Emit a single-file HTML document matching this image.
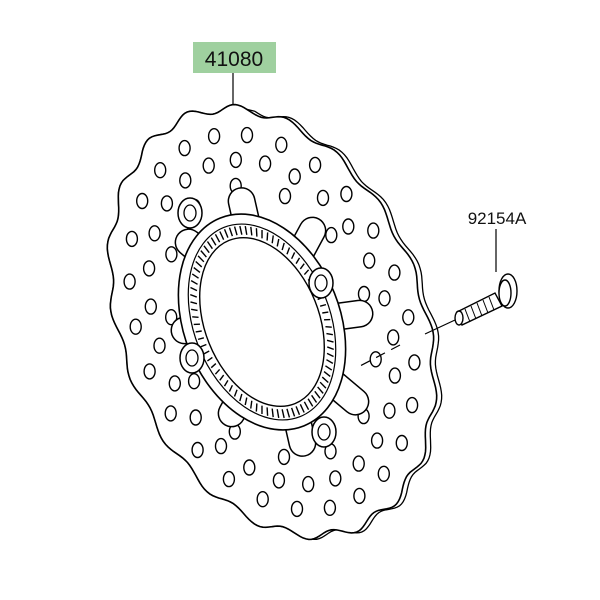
<!DOCTYPE html>
<html><head><style>
html,body{margin:0;padding:0;background:#fff;}
svg{display:block;}
text{font-family:"Liberation Sans",sans-serif;}
</style></head><body>
<svg id="s" width="600" height="600" viewBox="0 0 600 600" xmlns="http://www.w3.org/2000/svg">
<rect width="600" height="600" fill="#fff"/>
<rect x="193" y="42" width="83" height="31" fill="#9fd09f"/>
<text x="234" y="66" font-size="21" text-anchor="middle" fill="#111">41080</text>
<line x1="233" y1="73" x2="233" y2="106" stroke="#000" stroke-width="1.2"/>
<text x="497" y="224" font-size="17" text-anchor="middle" fill="#111">92154A</text>
<line x1="496" y1="229" x2="496" y2="272" stroke="#000" stroke-width="1.2"/>
<g id="disc" fill="none" stroke="#000" stroke-width="1.6"></g>
<g fill="#fff" stroke="#000" stroke-width="1.4">
<path d="M457 312 L495 293 L502 306 L462 325 Z"/>
<ellipse cx="459" cy="318" rx="4" ry="7"/>
<ellipse cx="508" cy="291" rx="9" ry="17"/>
<ellipse cx="505" cy="293" rx="6" ry="13"/>
</g>
<g stroke="#000" stroke-width="1">
<line x1="465" y1="309" x2="470" y2="322"/><line x1="471" y1="306" x2="476" y2="319"/>
<line x1="477" y1="303" x2="482" y2="316"/><line x1="483" y1="300" x2="488" y2="313"/>
<line x1="489" y1="297" x2="494" y2="310"/>
</g>
<line x1="455" y1="320" x2="425" y2="334" stroke="#000" stroke-width="1.2"/>
<line x1="400" y1="345" x2="360" y2="366" stroke="#000" stroke-width="1.2" stroke-dasharray="10,7"/>
</svg>
<script>
(function(){
var g=document.getElementById('disc'),NS='http://www.w3.org/2000/svg';
var cx=272,cy=322,th=-22*Math.PI/180;
function P(a,rx,ry){var x=rx*Math.cos(a),y=ry*Math.sin(a);return [cx+x*Math.cos(th)-y*Math.sin(th),cy+x*Math.sin(th)+y*Math.cos(th)];}
function el(n,at){var e=document.createElementNS(NS,n);for(var k in at)e.setAttribute(k,at[k]);g.appendChild(e);return e;}
var d='',d2='';
for(var i=0;i<=360;i++){var a=i/360*2*Math.PI;var w=1+0.02*Math.cos(a*20);var p=P(a,150*w,222*w);d+=(i?'L':'M')+p[0].toFixed(1)+' '+p[1].toFixed(1);
var q=P(a,150*w,222*w);d2+=(i?'L':'M')+(q[0]+(Math.cos(a+th)>0?5:0)).toFixed(1)+' '+q[1].toFixed(1);}
el('path',{d:d2,'stroke-width':1.3,fill:'#fff'});
el('path',{d:d,fill:'#fff','stroke-width':1.6});
var rows=[[0.88,26,0],[0.76,26,0.12],[0.64,13,0.06]];
rows.forEach(function(r){for(var j=0;j<r[1];j++){var a=j/r[1]*2*Math.PI+r[2];var p=P(a,150*r[0],222*r[0]);el('ellipse',{cx:p[0].toFixed(1),cy:p[1].toFixed(1),rx:5.5,ry:7.5,'stroke-width':1.4});}});
for(var k=0;k<8;k++){var a=k/8*2*Math.PI+0.2;var p1=P(a,62,96),p2=P(a,86,126);
el('line',{x1:p1[0],y1:p1[1],x2:p2[0],y2:p2[1],'stroke-width':28,stroke:'#000','stroke-linecap':'round'});
el('line',{x1:p1[0],y1:p1[1],x2:p2[0],y2:p2[1],'stroke-width':25,stroke:'#fff','stroke-linecap':'round'});}
function E(rx,ry,sw,f){el('ellipse',{cx:cx-10,cy:cy,rx:rx,ry:ry,transform:'rotate(-22 '+(cx-10)+' '+cy+')','stroke-width':sw,fill:f});}
E(78,112,1.6,'#fff');E(68,102,1.2,'none');E(57,88,1.4,'#fff');
for(var t=0;t<80;t++){var a=t/80*2*Math.PI,c=Math.cos(a),s=Math.sin(a);
function Q(rx,ry){var x=rx*c,y=ry*s;return [cx-10+x*Math.cos(th)-y*Math.sin(th),cy+x*Math.sin(th)+y*Math.cos(th)];}
var u=Q(60,91),v=Q(66,100);el('line',{x1:u[0],y1:u[1],x2:v[0],y2:v[1],'stroke-width':1.4});}
[[190,213],[321,283],[192,358],[324,432]].forEach(function(b){el('ellipse',{cx:b[0],cy:b[1],rx:12,ry:15,fill:'#fff','stroke-width':1.5});el('ellipse',{cx:b[0],cy:b[1],rx:6,ry:8,'stroke-width':1.3});});
})();
</script>
</body></html>
